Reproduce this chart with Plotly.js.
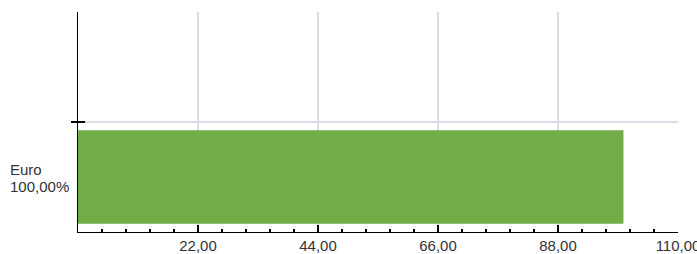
<!DOCTYPE html>
<html>
<head>
<meta charset="utf-8">
<script src="https://cdn.plot.ly/plotly-3.0.1.min.js"></script>
<style>html,body{margin:0;padding:0;background:#fff;overflow:hidden;width:697px;height:254px;}#chart{width:730px;height:254px;}</style>
</head>
<body>
<div id="chart"></div>
<script>
// Data
var categories = [0];
var categoryName = ["Euro"];
var categoryShare = ["100,00%"];
var values = [100];
var xTickVals = [0, 22, 44, 66, 88, 110];
var xTickText = ["", "22,00", "44,00", "66,00", "88,00", "110,00"];

var font = {family: "Liberation Sans, Arial, sans-serif", size: 15, color: "#333333"};
var gridColor = "#dcdce6";

var traces = [
  {
    type: "bar",
    orientation: "h",
    x: values,
    y: categories,
    width: 0.85,
    marker: {color: "#70ad47", line: {width: 0}},
    hoverinfo: "none",
    showlegend: false
  },
  {
    type: "scatter", x: [], y: [], yaxis: "y2", showlegend: false, hoverinfo: "none"
  }
];

var annotations = [];
categories.forEach(function (c, i) {
  annotations.push({
    xref: "paper", yref: "y", x: 0, y: c,
    xanchor: "left", yanchor: "middle", xshift: -70, yshift: 8,
    align: "left", showarrow: false, text: categoryName[i], font: font
  });
  annotations.push({
    xref: "paper", yref: "y", x: 0, y: c,
    xanchor: "left", yanchor: "middle", xshift: -70, yshift: -9,
    align: "left", showarrow: false, text: categoryShare[i], font: font
  });
});

var layout = {
  width: 730, height: 254,
  margin: {l: 78, r: 52, t: 12, b: 22, pad: 0},
  paper_bgcolor: "#ffffff", plot_bgcolor: "#ffffff",
  separators: ",.",
  font: font,
  showlegend: false,
  xaxis: {
    range: [0, 110],
    tickmode: "array", tickvals: xTickVals, ticktext: xTickText,
    ticks: "inside", ticklen: 7, tickwidth: 1.3, tickcolor: "#000",
    showline: true, linecolor: "#000", linewidth: 1.3,
    showgrid: true, gridcolor: gridColor, gridwidth: 1.5,
    zeroline: false,
    tickfont: font,
    minor: {tick0: 0, dtick: 4.4, ticks: "inside", ticklen: 3, tickwidth: 1.3, tickcolor: "#000", showgrid: false},
    fixedrange: true
  },
  yaxis: {
    range: [-0.5, 1.5],
    tickmode: "array", tickvals: [0.5], ticktext: [""],
    ticks: "outside", ticklen: 6, tickwidth: 1.5, tickcolor: "#000",
    showline: true, linecolor: "#000", linewidth: 1.5,
    showgrid: true, gridcolor: gridColor, gridwidth: 1.5,
    zeroline: false,
    fixedrange: true
  },
  yaxis2: {
    overlaying: "y", side: "left",
    range: [-0.5, 1.5],
    tickmode: "array", tickvals: [0.5], ticktext: [""],
    ticks: "inside", ticklen: 7, tickwidth: 1.5, tickcolor: "#000",
    showline: false, showgrid: false, zeroline: false, showticklabels: false,
    fixedrange: true
  },
  annotations: annotations
};

Plotly.newPlot("chart", traces, layout, {displayModeBar: false, staticPlot: true});
</script>
</body>
</html>
